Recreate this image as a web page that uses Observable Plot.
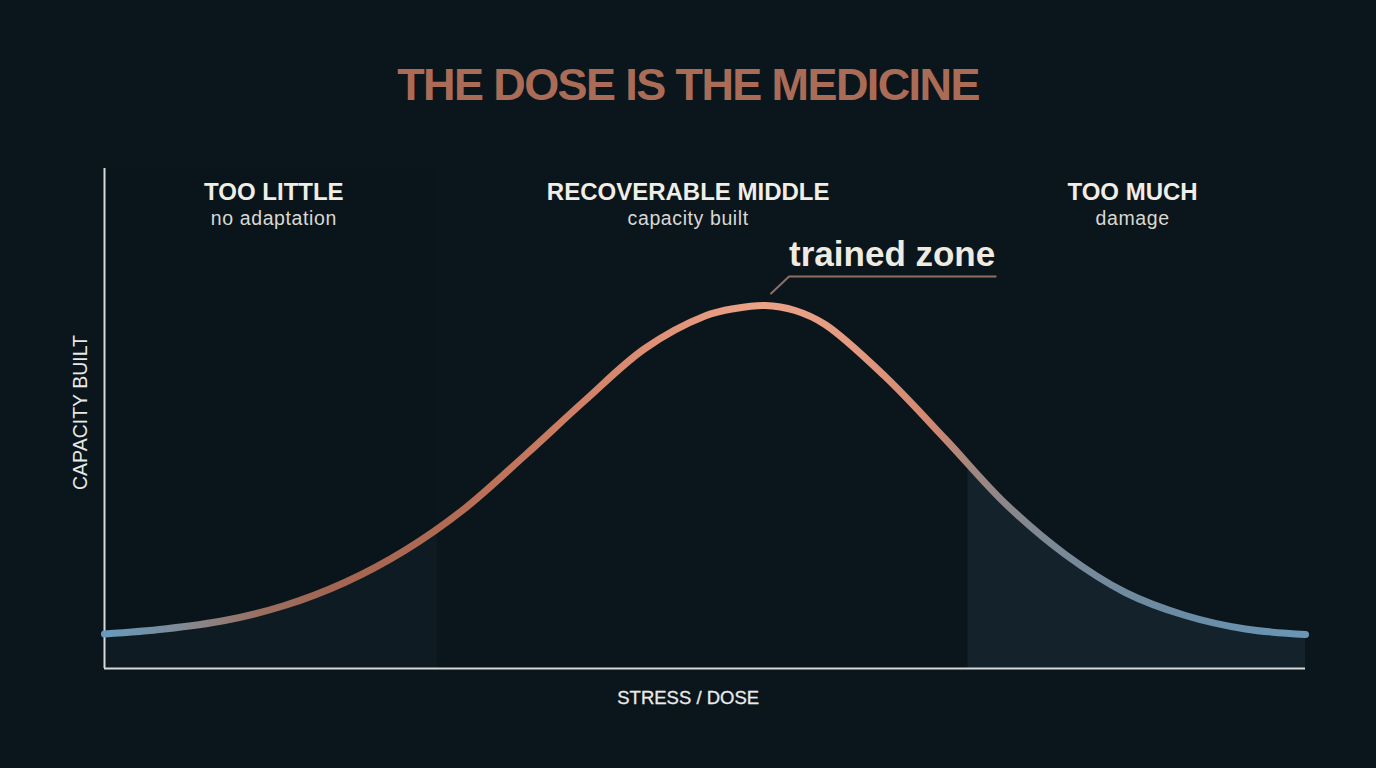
<!DOCTYPE html>
<html>
<head>
<meta charset="utf-8">
<script src="https://cdn.jsdelivr.net/npm/d3@7"></script>
<script src="https://cdn.jsdelivr.net/npm/@observablehq/plot@0.6"></script>
<style>
  html, body { margin: 0; padding: 0; background: #0b161c; }
  body { width: 1376px; height: 768px; overflow: hidden; }
  #title {
    height: 140px; box-sizing: border-box; padding-top: 62px;
    text-align: center; color: #aa6b57; letter-spacing: -1.6px;
    font: bold 45px "Liberation Sans", Arial, sans-serif; line-height: 46px;
  }
</style>
</head>
<body>
<div id="title">THE DOSE IS THE MEDICINE</div>
<div id="chart"></div>
<script>
// Dose–response curve: stress/dose (0–100) against capacity built (0–100)
const stress   = [0, 5, 10, 15, 20, 25, 30, 35, 40, 45, 50, 52.5, 55, 57.5, 60, 65, 70, 75, 80, 85, 90, 95, 100];
const capacity = [6.9, 7.9, 9.6, 12.6, 17.2, 23.6, 32.0, 42.6, 53.6, 64.0, 70.5, 72.0, 72.6, 71.6, 68.8, 58.4, 45.9, 33.0, 22.8, 15.2, 10.6, 7.9, 6.8];

// Zones along the dose axis
const zoneNames = ["TOO LITTLE", "RECOVERABLE MIDDLE", "TOO MUCH"];
const zoneNotes = ["no adaptation", "capacity built", "damage"];
const zoneStart = [0, 27.7, 71.9];
const zoneEnd   = [27.7, 71.9, 100];

const peakLabel = "trained zone";
const xLabel = "STRESS / DOSE";
const yLabel = "CAPACITY BUILT";

const curve = stress.map((s, i) => ({stress: s, capacity: capacity[i]}));

const BG = "#0b161c";
const FONT = "'Liberation Sans', Arial, sans-serif";
const labelX = [14.1, 48.6, 85.6];          // header anchors along the dose axis
const leader = [{x: 55.5, y: 75}, {x: 57.0, y: 78.4}, {x: 74.2, y: 78.4}];

const svg = Plot.plot({
  width: 1376,
  height: 628,
  marginLeft: 104,
  marginRight: 71,
  marginTop: 28,
  marginBottom: 100,
  x: {domain: [0, 100], axis: null},
  y: {domain: [0, 100], axis: null},
  style: {background: "transparent", fontFamily: FONT},
  marks: [
    // shaded area under the curve, kept only in the outer zones
    Plot.areaY(curve, {x: "stress", y: "capacity", curve: "catmull-rom", fill: "#13222b"}),
    Plot.rect([0], {x1: zoneStart[1], x2: zoneEnd[1], y1: 0, y2: 100, fill: BG}),
    Plot.rect([0], {x1: zoneStart[0], x2: zoneEnd[0], y1: 0, y2: 100, fill: BG, fillOpacity: 0.55}),
    // axes
    Plot.ruleX([0], {y1: 0, y2: 100, stroke: "#d6d9da", strokeWidth: 2}),
    Plot.ruleY([0], {x1: 0, x2: 100, stroke: "#d6d9da", strokeWidth: 2}),
    // the curve
    Plot.line(curve, {
      x: "stress", y: "capacity", curve: "catmull-rom",
      stroke: "url(#doseGrad)", strokeWidth: 7, strokeLinecap: "round"
    }),
    // peak annotation
    Plot.line(leader, {x: "x", y: "y", stroke: "#8e6f63", strokeWidth: 2}),
    Plot.text([peakLabel], {
      x: 57.0, y: 82.8, text: d => d, textAnchor: "start",
      fontSize: 35, fontWeight: "bold", fill: "#efebe3"
    }),
    // zone headers
    Plot.text(zoneNames, {
      x: (d, i) => labelX[i], y: 95.3, text: d => d,
      fontSize: 24, fontWeight: "bold", fill: "#f1eee7"
    }),
    Plot.text(zoneNotes, {
      x: (d, i) => labelX[i], y: 89.9, text: d => d,
      fontSize: 19.5, fill: "#d9d8d3"
    }),
    // axis titles
    Plot.text([xLabel], {
      x: 48.6, y: -5.85, text: d => d,
      fontSize: 18.5, fill: "#eceae6", stroke: "#eceae6", strokeWidth: 0.3
    }),
    Plot.text([yLabel], {
      x: -2.0, y: 51.2, text: d => d, rotate: -90,
      fontSize: 19.5, fill: "#e8e8e6"
    })
  ]
});

// letter spacing for the zone notes
d3.select(svg).selectAll("text").filter(function () {
  return zoneNotes.includes(this.textContent);
}).attr("letter-spacing", "0.6px");

// colour ramp along the curve: cool at the extremes, warm in the middle
const stops = [
  [0.00, "#6a9abb"], [0.04, "#7590a6"], [0.08, "#8a8588"], [0.13, "#9b6f60"],
  [0.19, "#a46552"], [0.28, "#b06a53"], [0.37, "#c97b61"], [0.46, "#df9076"],
  [0.545, "#eba387"], [0.62, "#e59b80"], [0.69, "#d18770"], [0.72, "#a5877f"],
  [0.75, "#8c878b"], [0.79, "#7b8997"], [0.885, "#6b8ba3"], [1.00, "#6a96b6"]
];
const grad = d3.select(svg).insert("defs", ":first-child")
  .append("linearGradient")
  .attr("id", "doseGrad")
  .attr("x1", 0).attr("x2", 1).attr("y1", 0).attr("y2", 0);
grad.selectAll("stop").data(stops).join("stop")
  .attr("offset", d => d[0])
  .attr("stop-color", d => d[1]);

document.getElementById("chart").append(svg);
</script>
</body>
</html>
